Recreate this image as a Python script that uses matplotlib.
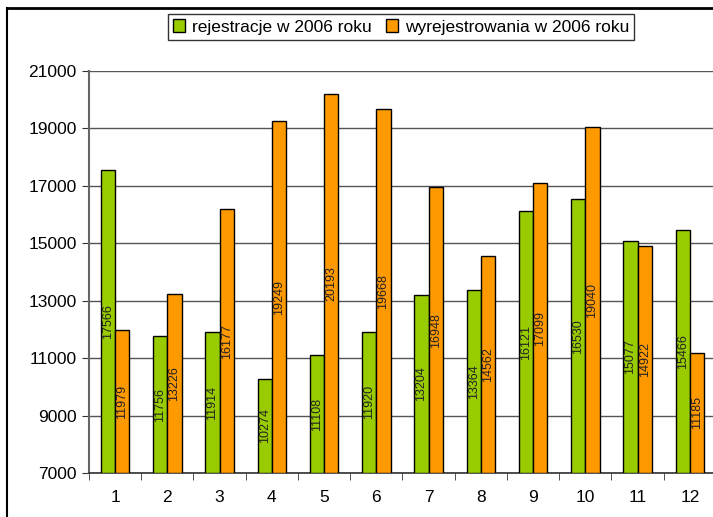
import matplotlib
matplotlib.use("Agg")
import matplotlib.pyplot as plt
import numpy as np
from matplotlib.lines import Line2D

plt.rcParams['font.family'] = ['Liberation Sans', 'DejaVu Sans']

months = ['1', '2', '3', '4', '5', '6', '7', '8', '9', '10', '11', '12']
rejestracje = [17566, 11756, 11914, 10274, 11108, 11920, 13204, 13364, 16121, 16530, 15077, 15466]
wyrejestrowania = [11979, 13226, 16177, 19249, 20193, 19668, 16948, 14562, 17099, 19040, 14922, 11185]
yticks = [7000, 9000, 11000, 13000, 15000, 17000, 19000, 21000]

W, H = 713, 517
fig = plt.figure(figsize=(W / 100, H / 100), dpi=100)
ax = fig.add_axes([89 / W, (H - 473) / H, (716 - 89) / W, (473 - 71) / H])

green = '#99CC00'
orange = '#FF9900'
x = np.arange(len(months))
bw = 0.274
ymin = 7000
ax.bar(x - bw / 2, np.array(rejestracje) - ymin, bw, bottom=ymin, color=green,
       edgecolor='black', linewidth=1.0, zorder=3, label='rejestracje w 2006 roku')
ax.bar(x + bw / 2, np.array(wyrejestrowania) - ymin, bw, bottom=ymin, color=orange,
       edgecolor='black', linewidth=1.0, zorder=3, label='wyrejestrowania w 2006 roku')

for i in range(len(months)):
    for off, v in ((-bw / 2, rejestracje[i]), (bw / 2, wyrejestrowania[i])):
        ax.text(x[i] + off, (ymin + v) / 2, str(v), rotation=90, ha='center', va='center',
                fontsize=9, color='#222222', zorder=4)

ax.set_xlim(-0.5, len(months) - 0.5)
ax.set_ylim(7000, 21000)
ax.set_yticks(yticks)
ax.set_yticklabels([str(t) for t in yticks], fontsize=12.5)
ax.yaxis.grid(True, color='#555555', linewidth=1.0, zorder=0)
ax.set_xticks(x)
ax.set_xticklabels(months, fontsize=12.5)
ax.set_xticks(np.arange(-0.5, len(months), 1), minor=True)
ax.tick_params(axis='x', which='major', length=0, pad=12)
ax.tick_params(axis='x', which='minor', length=5, direction='out', color='#333333')
ax.tick_params(axis='y', length=5, direction='out', color='#333333', pad=4)
for s in ['top', 'right']:
    ax.spines[s].set_visible(False)
ax.spines['left'].set_color('#666666')
ax.spines['left'].set_linewidth(1.5)
ax.spines['bottom'].set_color('#333333')
ax.spines['bottom'].set_linewidth(1.2)

# figure frame lines (top and left visible)
fig.add_artist(Line2D([7 / W, 7 / W], [0, 1 - 8 / H], transform=fig.transFigure, color='black', linewidth=1.5))
fig.add_artist(Line2D([7 / W, 1], [1 - 8 / H, 1 - 8 / H], transform=fig.transFigure, color='black', linewidth=2))

leg = fig.legend(loc='center', bbox_to_anchor=(401 / W, 1 - 27 / H), ncol=2, frameon=True,
                 fancybox=False, edgecolor='black', fontsize=12.5, handlelength=0.7,
                 handleheight=0.7, handletextpad=0.4, columnspacing=0.8, borderpad=0.3)
leg.get_frame().set_linewidth(1.0)

fig.savefig('out.png', dpi=100)
